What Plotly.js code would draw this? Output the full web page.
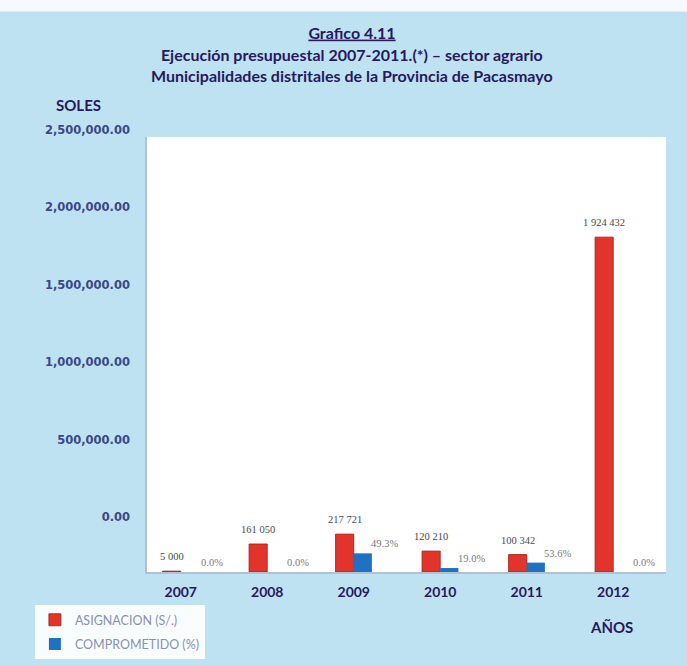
<!DOCTYPE html>
<html>
<head>
<meta charset="utf-8">
<script src="https://cdn.plot.ly/plotly-3.0.1.min.js"></script>
<style>html,body{margin:0;padding:0;background:#bfe2f2;}#chart{width:687px;height:666px;}</style>
</head>
<body>
<div id="chart"></div>
<script>
// ---- data ----
const years = ['2007', '2008', '2009', '2010', '2011', '2012'];
const asignacion = [5000, 161050, 217721, 120210, 100342, 1924432];       // S/.
const comprometido = [0, 0, 107300, 22800, 53800, 0];                      // S/. (bar heights)
const comprometidoPct = ['0.0%', '0.0%', '49.3%', '19.0%', '53.6%', '0.0%']; // labels
const yTickVals = [0, 500000, 1000000, 1500000, 2000000, 2500000];
const seriesNames = ['ASIGNACION (S/.)', 'COMPROMETIDO (%)'];
const titleLines = [
  'Grafico 4.11',
  'Ejecución presupuestal 2007-2011.(*) – sector agrario',
  'Municipalidades distritales de la Provincia de Pacasmayo'
];

function spaced(v) {
  return String(v).replace(/\B(?=(\d{3})+(?!\d))/g, ' ');
}

const FONT = 'Lato, "Open Sans", sans-serif';
const NAVY = '#27195c';

const traces = [
  {
    type: 'bar', name: seriesNames[0], x: years, y: asignacion, legendgroup: 'a',
    marker: {color: '#e2342a', line: {color: '#9e1d18', width: 0.8}},
    hoverinfo: 'x+y'
  },
  {
    type: 'bar', name: seriesNames[1], x: years, y: comprometido, legendgroup: 'b',
    marker: {color: '#1f72c2', line: {width: 0}},
    hoverinfo: 'x+y'
  },
  { // carries the offset tick-label axis of the scanned chart
    type: 'scatter', mode: 'markers', x: [years[0]], y: [yTickVals[0]], yaxis: 'y2',
    marker: {opacity: 0}, showlegend: false, hoverinfo: 'skip'
  }
];

const annotations = [];
years.forEach((yr, i) => {
  annotations.push({
    xref: 'x', yref: 'y', x: i, y: asignacion[i], text: spaced(asignacion[i]),
    showarrow: false, xanchor: 'center', xshift: -9, yanchor: 'bottom', yshift: 7,
    font: {family: '"Liberation Serif", serif', size: 10.5, color: '#4a4a4a'}
  });
  annotations.push({
    xref: 'x', yref: 'y', x: i, y: comprometido[i], text: comprometidoPct[i],
    showarrow: false, xanchor: 'center', xshift: 31, yanchor: 'bottom', yshift: 2,
    font: {family: '"Liberation Serif", serif', size: 10.5, color: '#7a7a7a'}
  });
});
annotations.push({
  xref: 'paper', yref: 'paper', x: (78 - 147) / 519, y: (572 - 105) / 442,
  xanchor: 'center', yanchor: 'middle',
  text: '<b>SOLES</b>', showarrow: false,
  font: {family: FONT, size: 15, color: NAVY}
});
annotations.push({
  xref: 'paper', yref: 'paper', x: (611 - 147) / 519, y: (572 - 627) / 442,
  xanchor: 'center', yanchor: 'middle',
  text: '<b>AÑOS</b>', showarrow: false,
  font: {family: FONT, size: 15, color: NAVY}
});
// two subtitle lines as one text block
annotations.push({
  xref: 'paper', yref: 'paper', x: (352 - 147) / 519, y: (572 - 64.5) / 442,
  xanchor: 'center', yanchor: 'middle',
  text: '<b>' + titleLines[1] + '<br>' + titleLines[2] + '</b>', showarrow: false,
  font: {family: FONT, size: 16, color: NAVY}
});

const layout = {
  width: 687, height: 666,
  margin: {l: 147, r: 21, t: 130, b: 94, autoexpand: false},
  paper_bgcolor: '#bfe2f2',
  plot_bgcolor: 'rgba(0,0,0,0)',
  title: {
    text: '<u>' + titleLines[0] + '</u>',
    x: 352 / 687, xanchor: 'center', xref: 'container',
    y: 1 - 33 / 666, yanchor: 'middle', yref: 'container',
    font: {family: FONT, size: 16, color: NAVY, weight: 'bold'}
  },
  barmode: 'group', bargap: 0.58, bargroupgap: 0,
  xaxis: {
    type: 'category', range: [-0.39, 5.61], showgrid: false,
    showline: true, linecolor: '#b4bfd2', linewidth: 2, ticks: '',
    tickfont: {family: FONT, size: 14, color: NAVY, weight: 'bold'},
    ticklabelstandoff: 6, fixedrange: true
  },
  yaxis: {
    range: [0, 2500000], domain: [0, 0.9842], showticklabels: false,
    showgrid: false, zeroline: false, showline: true, linecolor: '#b4bfd2', linewidth: 2,
    ticks: '', fixedrange: true
  },
  yaxis2: {
    anchor: 'x', side: 'left', domain: [0.1244, 1], range: [0, 2500000],
    tickvals: yTickVals, tickformat: ',.2f', showgrid: false, zeroline: false,
    showline: false, ticks: '', ticklabelstandoff: 16,
    tickfont: {family: '"DejaVu Sans", sans-serif', size: 11.5, color: '#3a4788', weight: 'bold'},
    fixedrange: true
  },
  legend: {
    x: -0.216, y: -0.075, xanchor: 'left', yanchor: 'top',
    bgcolor: 'rgba(255,255,255,0.92)', borderwidth: 0,
    font: {family: FONT, size: 12.5, color: '#8890b4'}, tracegroupgap: 5,
    itemwidth: 30
  },
  shapes: [
    {type: 'rect', xref: 'x domain', yref: 'y domain', x0: 0, x1: 1, y0: 0, y1: 1,
     fillcolor: '#ffffff', line: {width: 0}, layer: 'below'},
    {type: 'rect', xref: 'paper', yref: 'paper', x0: -0.3, x1: 1.1, y0: 1.268, y1: 1.32,
     fillcolor: '#f6fafd', line: {width: 0}, layer: 'below'}
  ],
  annotations: annotations,
  showlegend: true
};

Plotly.newPlot('chart', traces, layout, {displayModeBar: false, staticPlot: true});
</script>
</body>
</html>
